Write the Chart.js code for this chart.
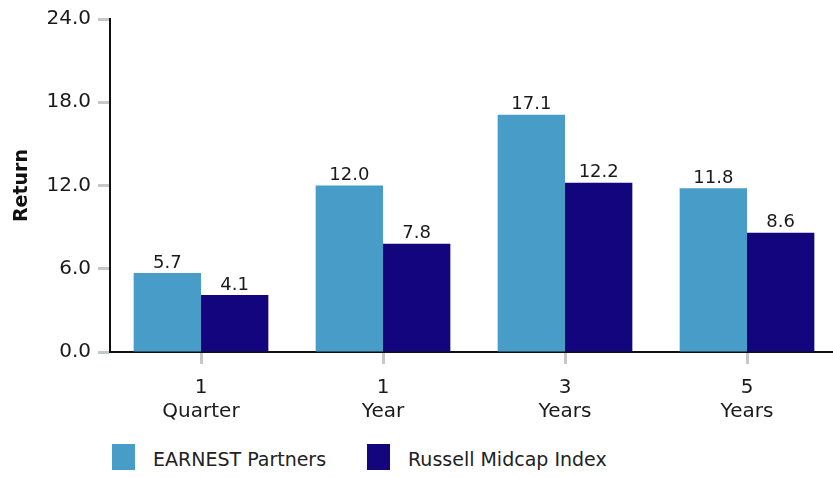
<!DOCTYPE html>
<html>
<head>
<meta charset="utf-8">
<script src="https://cdn.jsdelivr.net/npm/chart.js@4"></script>
<style>
  html, body { margin: 0; padding: 0; background: #fff; overflow: hidden; }
  #wrap { position: relative; width: 838px; height: 477px; }
  #chart { position: absolute; left: 0; top: 0; }
  .legend { position: absolute; top: 444px; font-family: 'DejaVu Sans', sans-serif; font-size: 19px; color: #222; }
  .legend span.box { position: absolute; left: 0; top: 0; width: 23px; height: 26px; }
  .legend span.txt { position: absolute; top: 4px; white-space: nowrap; }
</style>
</head>
<body>
<div id="wrap">
  <canvas id="chart" width="838" height="440"></canvas>
  <div id="legend"></div>
</div>
<script>
// ---- data ----
const categories = [['1', 'Quarter'], ['1', 'Year'], ['3', 'Years'], ['5', 'Years']];
const seriesNames = ['EARNEST Partners', 'Russell Midcap Index'];
const earnest = [5.7, 12.0, 17.1, 11.8];
const midcap = [4.1, 7.8, 12.2, 8.6];
const yTicks = [0, 6, 24];

const colors = ['#479cc8', '#12057d'];
const tickGrey = '#c4c8cc';
const font = "'DejaVu Sans', sans-serif";

// value labels above each bar
const valueLabels = {
  id: 'valueLabels',
  afterDatasetsDraw(chart) {
    const ctx = chart.ctx;
    ctx.save();
    ctx.font = '18px ' + font;
    ctx.fillStyle = '#1a1a1a';
    ctx.textAlign = 'center';
    ctx.textBaseline = 'bottom';
    chart.data.datasets.forEach((ds, i) => {
      chart.getDatasetMeta(i).data.forEach((bar, j) => {
        ctx.fillText(ds.data[j].toFixed(1), bar.x, bar.y - 1);
      });
    });
    ctx.restore();
  }
};

new Chart(document.getElementById('chart'), {
  type: 'bar',
  data: {
    labels: categories,
    datasets: [
      { label: seriesNames[0], data: earnest, backgroundColor: colors[0] },
      { label: seriesNames[1], data: midcap, backgroundColor: colors[1] }
    ]
  },
  options: {
    responsive: false,
    animation: false,
    layout: { padding: { top: 8, right: 0, left: 0, bottom: 0 } },
    categoryPercentage: 0.74,
    barPercentage: 1,
    plugins: { legend: { display: false }, tooltip: { enabled: false } },
    scales: {
      x: {
        afterFit: s => { s.height = 88; },
        border: { display: true, color: '#111', width: 2 },
        grid: { offset: false, drawOnChartArea: false, tickLength: 12, tickWidth: 3, tickColor: tickGrey },
        ticks: { color: '#1a1a1a', font: { family: font, size: 20 }, padding: 12, maxRotation: 0 }
      },
      y: {
        min: yTicks[0],
        max: yTicks[2],
        afterFit: s => { s.width = 110; },
        border: { display: true, color: '#111', width: 2 },
        grid: { drawOnChartArea: false, tickLength: 12, tickWidth: 3, tickColor: tickGrey },
        ticks: {
          stepSize: yTicks[1],
          color: '#1a1a1a',
          font: { family: font, size: 20 },
          padding: 7,
          callback: v => v.toFixed(1)
        },
        title: {
          display: true,
          text: 'Return',
          color: '#111',
          font: { family: font, size: 19, weight: 'bold' },
          padding: { top: 11, bottom: 0 }
        }
      }
    }
  },
  plugins: [valueLabels]
});

// legend row under the chart
const legendEl = document.getElementById('legend');
const legendX = [112, 367];
seriesNames.forEach((name, i) => {
  const item = document.createElement('div');
  item.className = 'legend';
  item.style.left = legendX[i] + 'px';
  item.innerHTML = '<span class="box" style="background:' + colors[i] + '"></span>' +
                   '<span class="txt" style="left:41px">' + name + '</span>';
  legendEl.appendChild(item);
});
</script>
</body>
</html>
